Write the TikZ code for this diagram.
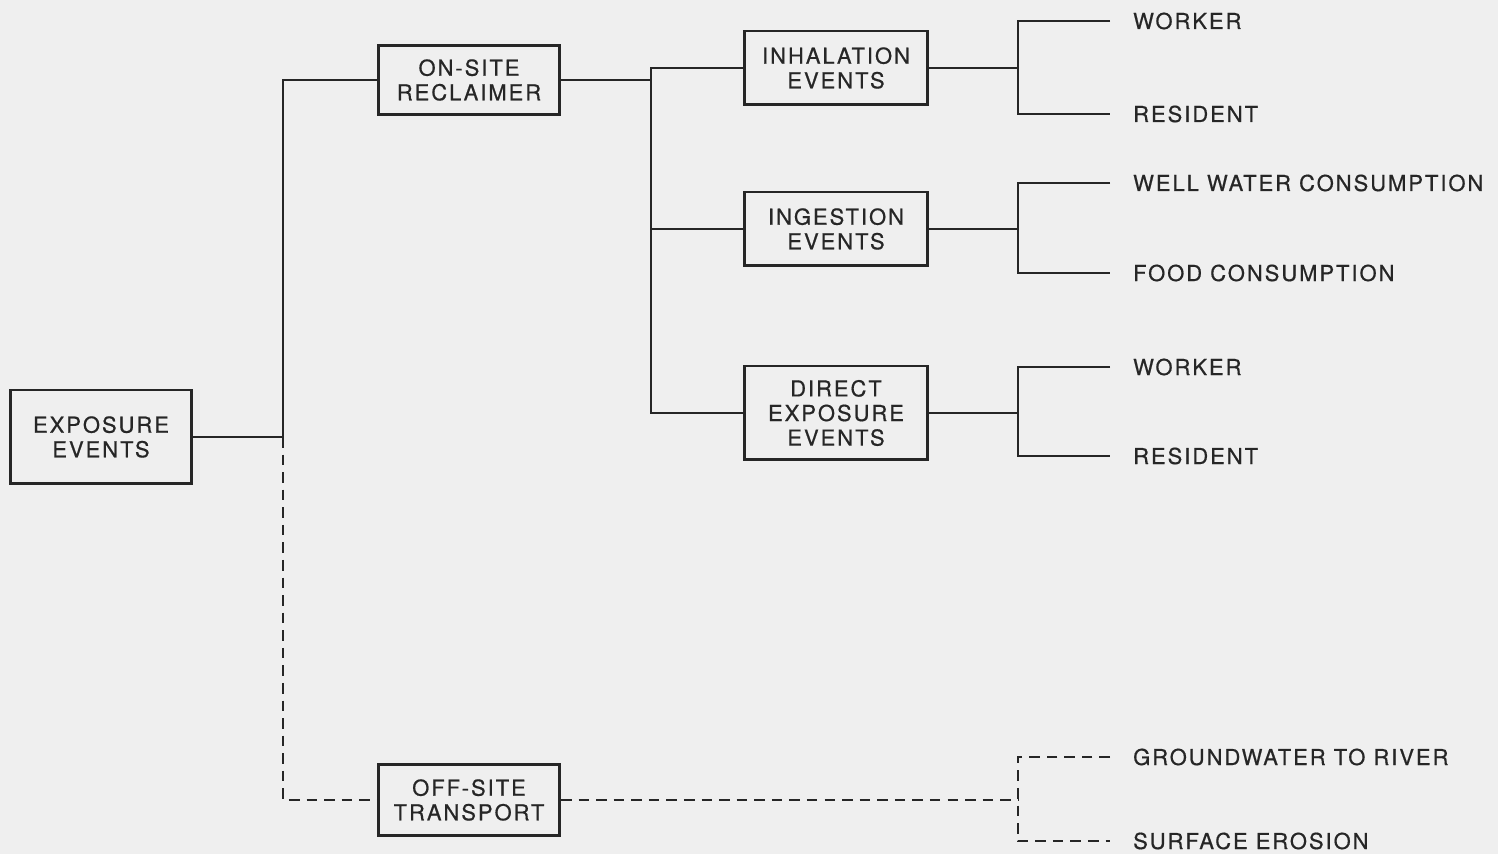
\documentclass[tikz,border=0pt]{standalone}
\usepackage{fontspec}
\setmainfont{TeX Gyre Heros}[LetterSpace=9,FakeBold=0.6]
\definecolor{bg}{HTML}{EFEFEF}
\definecolor{ink}{HTML}{262626}
\begin{document}
\begin{tikzpicture}[x=0.02cm,y=-0.02cm,
  box/.style={draw=ink,line width=1.7pt,fill=none,text=ink,align=center,
    font=\fontsize{12.5}{14}\selectfont,minimum width=3.64cm,inner sep=0pt},
  conn/.style={draw=ink,line width=1.1pt},
  dconn/.style={conn,dash pattern=on 6pt off 4pt},
  leaf/.style={anchor=west,text=ink,inner xsep=13pt,inner ysep=0pt,
    font=\fontsize{12.5}{14}\selectfont}]
\fill[bg] (0,0) rectangle (1498,854);
\useasboundingbox (0,0) rectangle (1498,854);

% boxes
\node[box,minimum height=1.88cm] (exp) at (101,437) {EXPOSURE\\EVENTS};
\node[box,minimum height=1.38cm] (rec) at (469,80) {ON-SITE\\RECLAIMER};
\node[box,minimum width=3.68cm,minimum height=1.48cm] (inh) at (836,68) {INHALATION\\EVENTS};
\node[box,minimum width=3.66cm,minimum height=1.48cm] (ing) at (836,229) {INGESTION\\EVENTS};
\node[box,minimum width=3.66cm,minimum height=1.88cm] (dir) at (836,413) {DIRECT\\EXPOSURE\\EVENTS};
\node[box,minimum width=3.62cm,minimum height=1.42cm] (off) at (469,800) {OFF-SITE\\TRANSPORT};

% leaves
\node[leaf] (w1) at (1110,21) {WORKER};
\node[leaf] (r1) at (1110,114) {RESIDENT};
\node[leaf] (ww) at (1110,183) {WELL WATER CONSUMPTION};
\node[leaf] (fc) at (1110,273) {FOOD CONSUMPTION};
\node[leaf] (w2) at (1110,367) {WORKER};
\node[leaf] (r2) at (1110,456) {RESIDENT};
\node[leaf] (gw) at (1110,757) {GROUNDWATER TO RIVER};
\node[leaf] (se) at (1110,841) {SURFACE EROSION};

% junctions
\coordinate (j1) at (283,437);
\coordinate (j2) at (651,80);
\coordinate (k1) at (1018,68);
\coordinate (k2) at (1018,229);
\coordinate (k3) at (1018,413);
\coordinate (k4) at (1018,800);

% connectors
\draw[conn] (exp.east) -- (j1);
\draw[conn] (j1) |- (rec.west);
\draw[dconn] (j1) |- (off.west);

\draw[conn] (rec.east) -- (j2);
\draw[conn] (inh.west) -| (j2 |- dir.west) -- (dir.west);
\draw[conn] (ing.west) -- (j2 |- ing.west);

\draw[conn] (inh.east) -- (k1);
\draw[conn] (w1.west) -| (k1 |- r1.west) -- (r1.west);
\draw[conn] (ing.east) -- (k2);
\draw[conn] (ww.west) -| (k2 |- fc.west) -- (fc.west);
\draw[conn] (dir.east) -- (k3);
\draw[conn] (w2.west) -| (k3 |- r2.west) -- (r2.west);

\draw[dconn] (off.east) -- (k4);
\draw[dconn] (gw.west) -| (k4 |- se.west) -- (se.west);
\end{tikzpicture}
\end{document}
